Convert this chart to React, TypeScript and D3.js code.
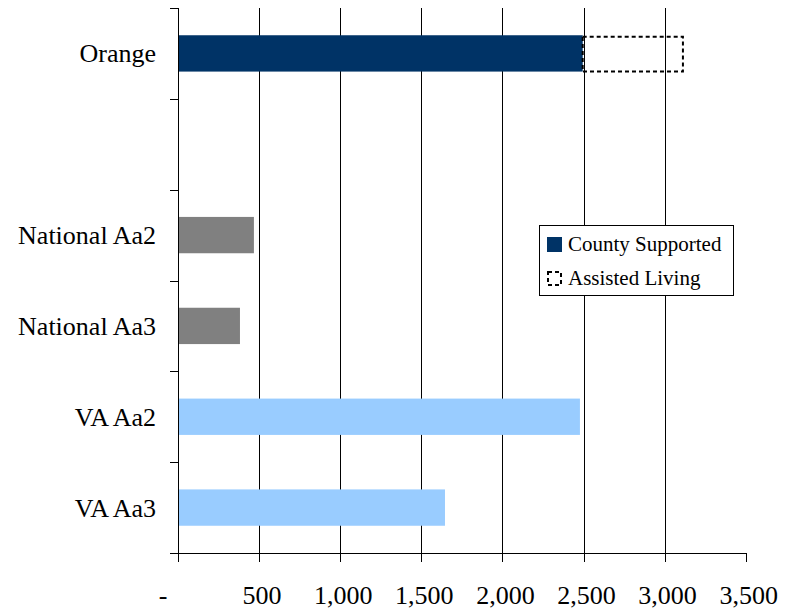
import React from "react";
import * as d3 from "d3";

// Rows of the chart; the empty string is a spacer row between Orange and the peers.
const categories = ["Orange", "", "National Aa2", "National Aa3", "VA Aa2", "VA Aa3"];
// Debt per capita components
const countySupported = [2495, null, 468, 382, 2478, 1646];
const assistedLiving = [618, null, 0, 0, 0, 0];
const rowColors = ["#003366", "#ffffff", "#808080", "#808080", "#99ccff", "#99ccff"];
const xTicks = [0, 500, 1000, 1500, 2000, 2500, 3000, 3500];
const legendItems = ["County Supported", "Assisted Living"];

const W = 785;
const H = 611;
const FONT = "'Liberation Serif', 'Times New Roman', serif";

export default function App() {
  const x = d3.scaleLinear().domain([0, 3500]).range([178, 745.7]);
  const y = d3
    .scaleBand<number>()
    .domain(categories.map((_, i) => i))
    .range([8, 553])
    .paddingInner(0.6)
    .paddingOuter(0.3);
  const step = y.step();
  const top = 8;
  const bottom = 553;
  const fmt = d3.format(",");
  const px = (v: number) => Math.round(v) + 0.5;

  return (
    <svg
      width={W}
      height={H}
      style={{ position: "absolute", left: 0, top: 0, background: "#fff" }}
      fontFamily={FONT}
    >
      <rect width={W} height={H} fill="#fff" />
      {/* vertical gridlines */}
      {xTicks.slice(1, -1).map((t) => (
        <line key={t} x1={px(x(t))} x2={px(x(t))} y1={top} y2={bottom} stroke="#000" strokeWidth={1} />
      ))}

      {/* bars */}
      {categories.map((c, i) => {
        const v = countySupported[i];
        if (v == null) return null;
        const y0 = y(i)!;
        const bh = y.bandwidth();
        const a = assistedLiving[i] ?? 0;
        return (
          <g key={i}>
            <rect x={x(0)} y={y0} width={x(v) - x(0)} height={bh} fill={rowColors[i]} />
            {a > 0 && (
              <rect
                x={x(v)}
                y={y0 + 1.5}
                width={x(v + a) - x(v)}
                height={bh - 1.5}
                fill="none"
                stroke="#000"
                strokeWidth={2}
                strokeDasharray="4 3"
              />
            )}
          </g>
        );
      })}

      {/* y axis */}
      <line x1={px(x(0))} x2={px(x(0))} y1={top} y2={bottom} stroke="#000" strokeWidth={1} />
      {d3.range(categories.length + 1).map((k) => (
        <line key={k} x1={170} x2={178} y1={px(top + k * step)} y2={px(top + k * step)} stroke="#000" />
      ))}
      {categories.map((c, i) => (
        <text
          key={i}
          x={156}
          y={y(i)! + y.bandwidth() / 2 + 9}
          textAnchor="end"
          fontSize={26}
          fill="#000"
        >
          {c}
        </text>
      ))}

      {/* x axis */}
      <line x1={x(0)} x2={x(3500) + 0.5} y1={px(bottom)} y2={px(bottom)} stroke="#000" />
      {xTicks.map((t) => (
        <line key={t} x1={px(x(t))} x2={px(x(t))} y1={bottom} y2={562} stroke="#000" />
      ))}
      {xTicks.map((t) => (
        <text
          key={t}
          x={t === 0 ? x(t) - 15 : x(t) + 3}
          y={604}
          textAnchor="middle"
          fontSize={26}
          fill="#000"
        >
          {t === 0 ? "-" : fmt(t)}
        </text>
      ))}

      {/* legend */}
      <g>
        <rect x={539.5} y={225.5} width={194} height={70} fill="#fff" stroke="#000" strokeWidth={1} />
        <rect x={547} y={237} width={15} height={15} fill={rowColors[0]} />
        <text x={568} y={251} fontSize={21} fill="#000">
          {legendItems[0]}
        </text>
        <rect
          x={548}
          y={272}
          width={13}
          height={13}
          fill="none"
          stroke="#000"
          strokeWidth={2}
          strokeDasharray="4 3"
        />
        <text x={568} y={285} fontSize={21} fill="#000">
          {legendItems[1]}
        </text>
      </g>
    </svg>
  );
}
